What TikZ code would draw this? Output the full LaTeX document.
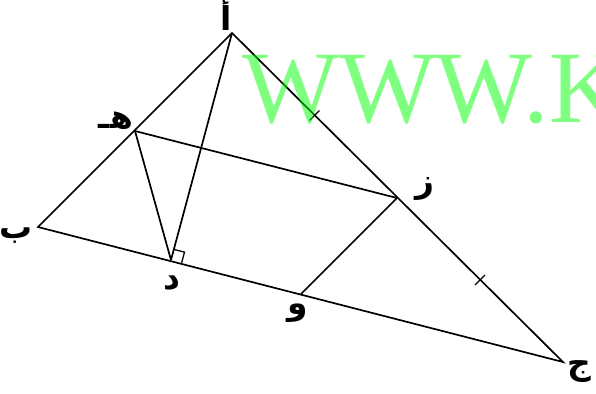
\documentclass[tikz,border=0pt]{standalone}
\usepackage{fontspec}
\newfontfamily\arabicfont[Script=Arabic]{DejaVu Sans}
\newfontfamily\markfont{Liberation Serif}
\TeXXeTstate=1
\usetikzlibrary{calc}
\begin{document}
\begin{tikzpicture}[
  x=1bp, y=-1bp,
  edge/.style={line width=1.7pt, line join=miter},
  tick/.style={line width=1.3pt},
  lbl/.style={font=\arabicfont\bfseries\fontsize{33}{33}\selectfont, inner sep=0pt},
  watermark/.style={font=\markfont\fontsize{103}{103}\selectfont, text=green, text opacity=0.5, inner sep=0pt, anchor=base west}
]
\useasboundingbox (0,0) rectangle (596,393);

\coordinate (a) at (232,33);
\coordinate (b) at (38,227);
\coordinate (c) at (563,362);
\coordinate (h) at (135,131);
\coordinate (z) at (397,198);
\coordinate (d) at (171,260);
\coordinate (w) at (301,294);

\draw[edge] (a) -- (b) -- (c) -- cycle;
\draw[edge] (a) -- (d);
\draw[edge] (h) -- (d);
\draw[edge] (h) -- (z);
\draw[edge] (z) -- (w);

% right angle at d
\draw[tick] ($(d)!11bp!(c)$) -- ($($(d)!11bp!(c)$)+($(d)!11bp!(a)$)-(d)$) -- ($(d)!11bp!(a)$);

% equal parts on ac
\coordinate (m1) at ($(a)!0.5!(z)$);
\coordinate (m2) at ($(z)!0.5!(c)$);
\draw[tick] ($(m1)!7bp!90:(z)$) -- ($(m1)!7bp!-90:(z)$);
\draw[tick] ($(m2)!7bp!90:(c)$) -- ($(m2)!7bp!-90:(c)$);

\node[lbl] (la) at (226,14) {\beginR أ\endR};
\node[lbl] (lb) at (16,236) {\beginR ب\endR};
\node[lbl] (lc) at (579,372) {\beginR ج\endR};
\node[lbl] (lh) at (116,121) {\beginR هـ\endR};
\node[lbl] (lz) at (425,189) {\beginR ز\endR};
\node[lbl] (ld) at (172,283) {\beginR د\endR};
\node[lbl] (lw) at (298,313) {\beginR و\endR};

\node[watermark] (wm) at (242,122) {WWW.K};
\end{tikzpicture}
\end{document}
